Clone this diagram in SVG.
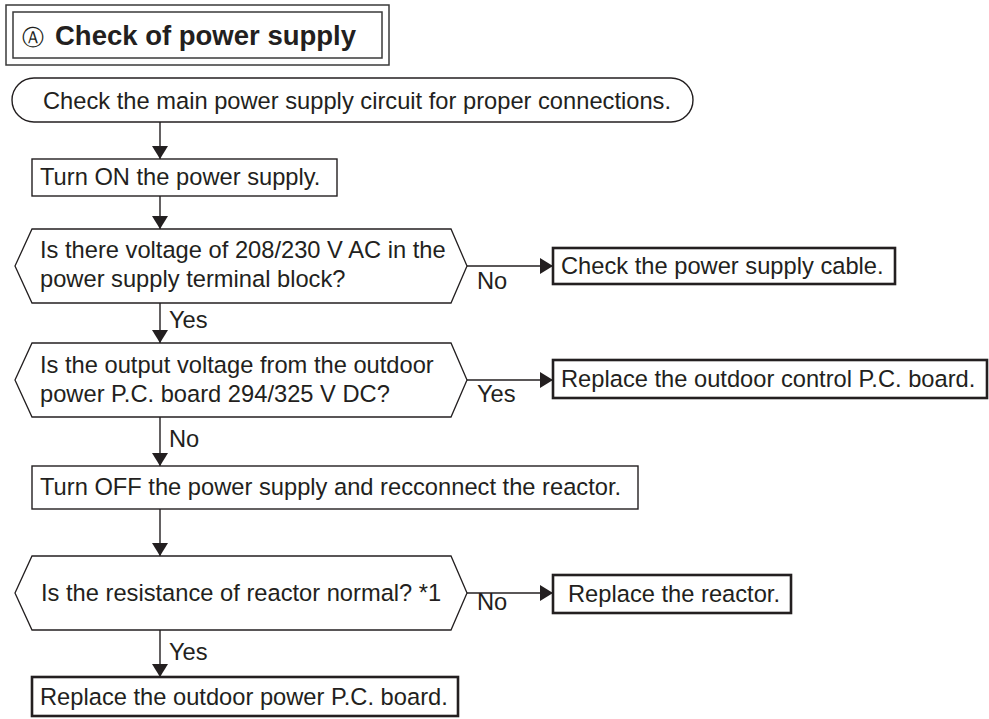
<svg xmlns="http://www.w3.org/2000/svg" width="989" height="719" viewBox="0 0 989 719">
<style>
  text { font-family: "Liberation Sans", Arial, sans-serif; font-size: 23.7px; fill: #231f20; }
  .title { font-weight: bold; font-size: 27.5px; }
  .circ { font-family: "DejaVu Sans", "Liberation Sans", sans-serif; font-size: 22px; }
  .frame { fill: none; stroke: #3a3a3a; stroke-width: 1.5; }
  .thin { fill: #fff; stroke: #231f20; stroke-width: 1.4; }
  .thick { fill: #fff; stroke: #231f20; stroke-width: 2.6; }
  .dec { fill: #fff; stroke: #231f20; stroke-width: 1.3; }
  .conn line { stroke: #231f20; stroke-width: 1.4; marker-end: url(#ah); }
</style>
<defs>
  <marker id="ah" markerUnits="userSpaceOnUse" markerWidth="14" markerHeight="16" refX="13" refY="8" orient="auto">
    <path d="M0,0 L13,8 L0,16 Z" fill="#231f20"/>
  </marker>
</defs>
<rect width="989" height="719" fill="#fff"/>

<g id="title">
  <rect class="frame" x="6" y="5" width="383" height="60"/>
  <rect class="frame" x="13" y="12" width="369" height="46"/>
  <text class="circ" x="22" y="45">Ⓐ</text>
  <text class="title" x="55" y="45">Check of power supply</text>
</g>

<g id="start">
  <path class="thin" d="M34,78 H671 A22,22 0 0 1 671,122 H34 A22,22 0 0 1 34,78 Z"/>
  <text x="43" y="109">Check the main power supply circuit for proper connections.</text>
</g>

<g id="turn-on">
  <rect class="thin" x="32" y="159" width="305" height="37"/>
  <text x="40" y="185">Turn ON the power supply.</text>
</g>

<g id="dec-voltage">
  <polygon class="dec" points="15,266 32,229 451,229 467,266 451,303 32,303"/>
  <text x="40" y="258">Is there voltage of 208/230 V AC in the</text>
  <text x="40" y="287">power supply terminal block?</text>
</g>

<g id="check-cable">
  <rect class="thick" x="553" y="248" width="342" height="36"/>
  <text x="561" y="274">Check the power supply cable.</text>
</g>

<g id="dec-output">
  <polygon class="dec" points="15,380 32,343 451,343 467,380 451,417 32,417"/>
  <text x="40" y="373">Is the output voltage from the outdoor</text>
  <text x="40" y="402">power P.C. board 294/325 V DC?</text>
</g>

<g id="replace-control">
  <rect class="thick" x="553" y="360" width="434" height="38"/>
  <text x="561" y="387">Replace the outdoor control P.C. board.</text>
</g>

<g id="turn-off">
  <rect class="thin" x="32" y="466" width="606" height="43"/>
  <text x="40" y="495">Turn OFF the power supply and recconnect the reactor.</text>
</g>

<g id="dec-reactor">
  <polygon class="dec" points="15,593 32,556 451,556 467,593 451,630 32,630"/>
  <text x="41" y="601">Is the resistance of reactor normal? *1</text>
</g>

<g id="replace-reactor">
  <rect class="thick" x="553" y="575" width="238" height="38"/>
  <text x="568" y="602">Replace the reactor.</text>
</g>

<g id="replace-power">
  <rect class="thick" x="32" y="677" width="426" height="39"/>
  <text x="40" y="705">Replace the outdoor power P.C. board.</text>
</g>

<g id="connectors" class="conn">
  <line x1="160" y1="122" x2="160" y2="159"/>
  <line x1="160" y1="196" x2="160" y2="229"/>
  <line x1="160" y1="303" x2="160" y2="343"/>
  <line x1="160" y1="417" x2="160" y2="466"/>
  <line x1="160" y1="509" x2="160" y2="556"/>
  <line x1="160" y1="630" x2="160" y2="677"/>
  <line x1="467" y1="266" x2="553" y2="266"/>
  <line x1="467" y1="380" x2="553" y2="380"/>
  <line x1="467" y1="593" x2="553" y2="593"/>
</g>

<g id="labels">
  <text x="477" y="289">No</text>
  <text x="169" y="328">Yes</text>
  <text x="477" y="402">Yes</text>
  <text x="169" y="447">No</text>
  <text x="477" y="610">No</text>
  <text x="169" y="660">Yes</text>
</g>
</svg>
